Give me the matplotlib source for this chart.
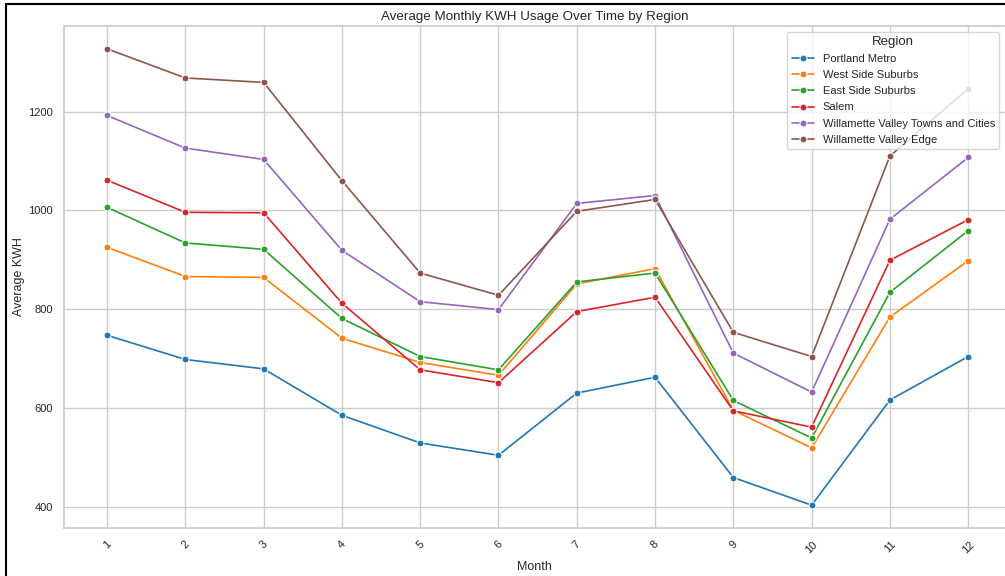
import pandas as pd
import matplotlib
matplotlib.use('Agg')
import matplotlib.pyplot as plt
import seaborn as sns
from matplotlib.lines import Line2D

months = list(range(1, 13))
regions = ['Portland Metro', 'West Side Suburbs', 'East Side Suburbs', 'Salem',
           'Willamette Valley Towns and Cities', 'Willamette Valley Edge']

portland_metro = [747, 698, 679, 585, 529, 504, 630, 662, 459, 403, 616, 704]
west_side = [925, 866, 864, 741, 692, 666, 851, 882, 595, 519, 784, 898]
east_side = [1006, 934, 921, 781, 704, 677, 855, 873, 615, 539, 834, 959]
salem = [1061, 996, 995, 812, 677, 651, 795, 824, 594, 561, 899, 981]
wv_towns = [1192, 1126, 1103, 919, 815, 799, 1014, 1030, 711, 632, 982, 1107]
wv_edge = [1327, 1268, 1259, 1060, 873, 828, 998, 1022, 753, 704, 1110, 1246]

series = [portland_metro, west_side, east_side, salem, wv_towns, wv_edge]

# long format for seaborn
rows = []
for reg, vals in zip(regions, series):
    for m, v in zip(months, vals):
        rows.append({'Month': m, 'Average KWH': v, 'Region': reg})
df = pd.DataFrame(rows)

sns.set_theme(style='whitegrid')
plt.rcParams['font.family'] = ['Liberation Sans', 'DejaVu Sans']

fig = plt.figure(figsize=(10.05, 5.76), dpi=100)
ax = fig.add_axes([64 / 1005, 1 - 528 / 576, (1005 - 64) / 1005, (528 - 26) / 576])

sns.lineplot(data=df, x='Month', y='Average KWH', hue='Region', marker='o',
             palette='tab10', linewidth=1.2, markersize=5, ax=ax)

ax.set_xticks(months)
ax.set_xlim(0.45, 12.47)
ax.tick_params(axis='x', labelrotation=45, labelsize=8, pad=2)
ax.tick_params(axis='y', labelsize=8, pad=2)
ax.set_title('Average Monthly KWH Usage Over Time by Region', fontsize=9.6, pad=4)
ax.set_xlabel('Month', fontsize=9)
ax.set_ylabel('Average KWH', fontsize=9, labelpad=2)
for s in ax.spines.values():
    s.set_color('#cccccc')
ax.spines['right'].set_visible(False)

leg = ax.legend(title='Region', loc='upper right', fontsize=8, title_fontsize=9.5,
                labelspacing=0.55)

# screenshot frame on left and top
fig.add_artist(Line2D([6 / 1005, 6 / 1005], [0, 1 - 4 / 576], color='black', lw=1.5,
                      transform=fig.transFigure))
fig.add_artist(Line2D([6 / 1005, 1], [1 - 4 / 576, 1 - 4 / 576], color='black', lw=1.5,
                      transform=fig.transFigure))

fig.savefig('out.png', dpi=100)
